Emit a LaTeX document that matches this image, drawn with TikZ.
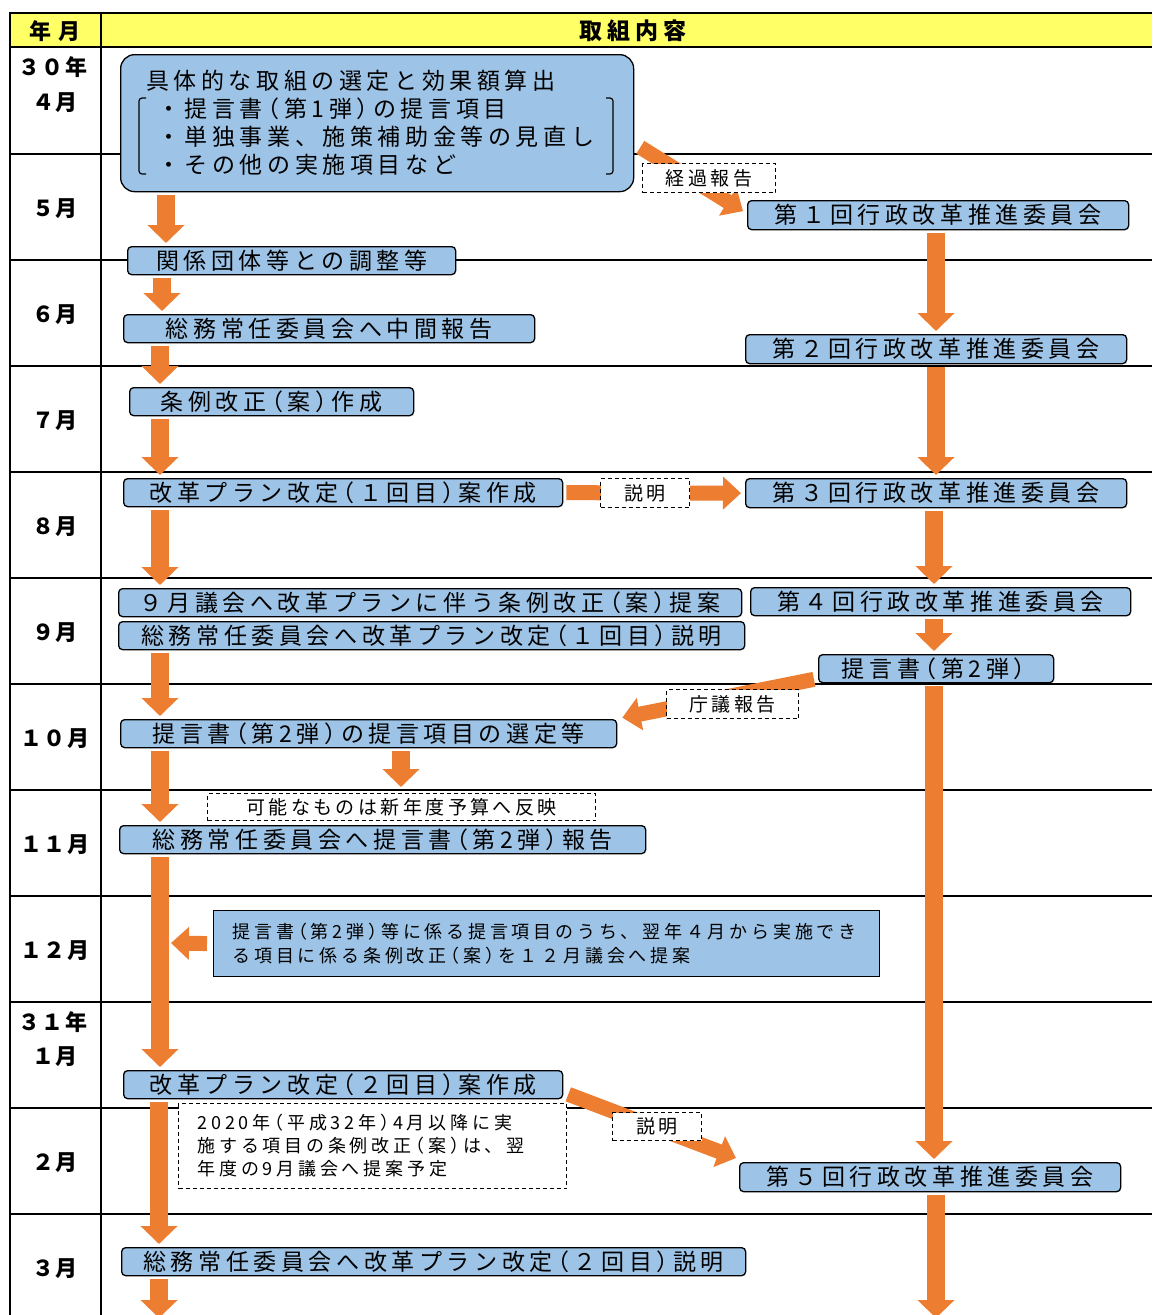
\documentclass[tikz,border=0pt]{standalone}
\usepackage{fontspec}
\usetikzlibrary{arrows.meta}
\newfontfamily\jpbox{Noto Sans CJK JP}[LetterSpace=20]
\newfontfamily\jpsm{Noto Sans CJK JP}[LetterSpace=21]
\newfontfamily\jplab{Noto Sans CJK JP}[LetterSpace=18]
\newfontfamily\jpmon{Noto Sans CJK JP}[LetterSpace=5]
\newfontfamily\jphd{Noto Sans CJK JP}[LetterSpace=22]
\definecolor{hdr}{HTML}{FFFF66}
\definecolor{boxblue}{HTML}{9DC3E6}
\definecolor{org}{HTML}{ED7D31}
\newcommand\jlp{\kern-.28em（}
\newcommand\jrp{）\kern-.28em}
\pgfdeclarelayer{bg}
\pgfsetlayers{bg,main}
\begin{document}
\begin{tikzpicture}[x=1pt,y=-1pt,
  box/.style={draw=black,line width=1.3pt,fill=boxblue,rounded corners=4pt,inner sep=0pt,anchor=north west,font=\jpbox\fontsize{23}{26}\selectfont},
  btext/.style={anchor=west,inner sep=0pt,font=\jpbox\fontsize{23}{26}\selectfont},
  lab/.style={draw=black,dash pattern=on 4pt off 3pt,line width=1pt,fill=white,inner sep=0pt,anchor=north west,font=\jplab\fontsize{19}{22}\selectfont},
  mon/.style={font=\jpmon\bfseries\fontsize{22}{24}\selectfont,inner sep=0pt},
  varr/.style={draw=org,line width=18pt,-{Triangle[width=36pt,length=18pt]},shorten <=3pt,shorten >=3pt},
  harr/.style={draw=org,line width=15pt,-{Triangle[width=32pt,length=18pt]}},
  grid/.style={line width=2pt,black}]
\useasboundingbox (0,0) rectangle (1152,1315);

% header and month labels
\node[mon] (h1) at (55,31) {年 月};
\node[font=\jphd\bfseries\fontsize{23}{24}\selectfont,inner sep=0pt] (h2) at (633,31) {取組内容};
\node[mon] (m30) at (53,67) {３０年};
\node[mon] (m4) at (55,103) {４月};
\node[mon] (m5) at (55,209) {５月};
\node[mon] (m6) at (55,315) {６月};
\node[mon] (m7) at (55,421) {７月};
\node[mon] (m8) at (55,527) {８月};
\node[mon] (m9) at (55,633) {９月};
\node[mon] (m10) at (55,739) {１０月};
\node[mon] (m11) at (55,845) {１１月};
\node[mon] (m12) at (55,951) {１２月};
\node[mon] (m31) at (53,1022) {３１年};
\node[mon] (m1) at (55,1057) {１月};
\node[mon] (m2) at (55,1163) {２月};
\node[mon] (m3) at (55,1269) {３月};

% big box
\node[box,rounded corners=14pt,minimum width=513,minimum height=137] (big) at (120,54) {};
\node[btext] (t0) at (146,81) {具体的な取組の選定と効果額算出};
\node[btext] (t1) at (157,109) {・提言書\jlp 第1弾\jrp の提言項目};
\node[btext] (t2) at (157,137) {・単独事業、施策補助金等の見直し};
\node[btext] (t3) at (157,165) {・その他の実施項目など};
\draw[line width=1.2pt,rounded corners=3pt] (146,98) -- (139,98) -- (139,174) -- (146,174);
\draw[line width=1.2pt,rounded corners=3pt] (606,98) -- (613,98) -- (613,174) -- (606,174);

% boxes
\node[box,minimum width=381,minimum height=29] (b1) at (747,200) {第１回行政改革推進委員会};
\node[box,minimum width=328,minimum height=28] (b2) at (127,246) {関係団体等との調整等};
\node[box,minimum width=411,minimum height=28] (b3) at (123,314) {総務常任委員会へ中間報告};
\node[box,minimum width=381,minimum height=29] (b4) at (745,334) {第２回行政改革推進委員会};
\node[box,minimum width=284,minimum height=28] (b5) at (129,387) {条例改正\jlp 案\jrp 作成};
\node[box,minimum width=439,minimum height=28] (b6) at (123,478) {改革プラン改定\jlp １回目\jrp 案作成};
\node[box,minimum width=381,minimum height=29] (b7) at (745,478) {第３回行政改革推進委員会};
\node[box,minimum width=623,minimum height=28] (b8) at (118,588) {９月議会へ改革プランに伴う条例改正\jlp 案\jrp 提案};
\node[box,minimum width=380,minimum height=28] (b9) at (750,587) {第４回行政改革推進委員会};
\node[box,minimum width=626,minimum height=28] (b10) at (118,621) {総務常任委員会へ改革プラン改定\jlp １回目\jrp 説明};
\node[box,minimum width=235,minimum height=28] (b11) at (818,654) {提言書\jlp 第2弾\jrp};
\node[box,minimum width=496,minimum height=28] (b12) at (120,719) {提言書\jlp 第2弾\jrp の提言項目の選定等};
\node[lab,minimum width=388,minimum height=27] (d1) at (207,793) {可能なものは新年度予算へ反映};
\node[box,minimum width=526,minimum height=28] (b13) at (119,825) {総務常任委員会へ提言書\jlp 第2弾\jrp 報告};
\node[box,rounded corners=0pt,minimum width=666,minimum height=66,text width=628,align=left,font=\jpsm\fontsize{18}{24}\selectfont] (b14) at (213,910) {提言書\jlp 第2弾\jrp 等に係る提言項目のうち、翌年４月から実施でき\\る項目に係る条例改正\jlp 案\jrp を１２月議会へ提案};
\node[box,minimum width=439,minimum height=28] (b15) at (123,1070) {改革プラン改定\jlp ２回目\jrp 案作成};
\node[lab,minimum width=388,minimum height=85,text width=350,align=left,font=\jpsm\fontsize{18}{23}\selectfont] (d2) at (178,1103) {2020年\jlp 平成32年\jrp 4月以降に実\\施する項目の条例改正\jlp 案\jrp は、翌\\年度の9月議会へ提案予定};
\node[box,minimum width=381,minimum height=29] (b16) at (739,1162) {第５回行政改革推進委員会};
\node[box,minimum width=624,minimum height=28] (b17) at (121,1247) {総務常任委員会へ改革プラン改定\jlp ２回目\jrp 説明};

% dashed labels
\node[lab,minimum width=133,minimum height=29] (l1) at (642,163) {経過報告};
\node[lab,minimum width=89,minimum height=29] (l2) at (600,478) {説明};
\node[lab,minimum width=132,minimum height=29] (l3) at (666,689) {庁議報告};
\node[lab,minimum width=89,minimum height=28] (l4) at (612,1112) {説明};

\coordinate (endL) at (159,1318);
\coordinate (endR) at (936,1318);
\coordinate (c12) at (171,943);

\begin{pgfonlayer}{bg}
\fill[hdr] (10,13) rectangle (1152,47);
\foreach \y in {154,260,...,1214} \draw[grid] (10,\y) -- (1152,\y);
\draw[line width=2.5pt] (1152,13) -- (10,13) -- (10,1315);
\draw[line width=2.5pt] (10,47) -- (1152,47);
\draw[line width=2.5pt] (101,13) -- (101,1315);
% left column
\draw[varr] (big.south -| 166,0) -- (b2.north -| 166,0);
\draw[varr] (b2.south -| 162,0) -- (b3.north -| 162,0);
\draw[varr] (b3.south -| 160,0) -- (b5.north -| 160,0);
\draw[varr] (b5.south -| 160,0) -- (b6.north -| 160,0);
\draw[varr] (b6.south -| 160,0) -- (b8.north -| 160,0);
\draw[varr] (b10.south -| 160,0) -- (b12.north -| 160,0);
\draw[varr] (b12.south -| 160,0) -- (b13.north -| 160,0);
\draw[varr,shorten >=6pt] (b12.south -| 401,0) -- (d1.north -| 401,0);
\draw[varr] (b13.south -| 160,0) -- (b15.north -| 160,0);
\draw[varr] (b15.south -| 159,0) -- (b17.north -| 159,0);
\draw[varr,shorten >=0pt] (b17.south -| 159,0) -- (endL);
% right column
\draw[varr] (b1.south -| 936,0) -- (b4.north -| 936,0);
\draw[varr] (b4.south -| 936,0) -- (b7.north -| 936,0);
\draw[varr] (b7.south -| 934,0) -- (b9.north -| 934,0);
\draw[varr] (b9.south -| 934,0) -- (b11.north -| 934,0);
\draw[varr] (b11.south -| 934,0) -- (b16.north -| 934,0);
\draw[varr,shorten >=0pt] (b16.south -| 936,0) -- (endR);
% cross arrows
\draw[harr] ([xshift=6pt,yshift=45pt]big.south east) -- ([xshift=-4pt,yshift=4pt]b1.west);
\draw[harr,shorten <=3pt,shorten >=4pt] (b6.east) -- (b7.west);
\draw[harr] ([xshift=-4pt,yshift=4pt]b11.south west) -- ([xshift=5pt,yshift=16pt]b12.east);
\draw[harr] ([xshift=5pt,yshift=5pt]b15.south east) -- ([xshift=-3pt,yshift=4pt]b16.north west);
\draw[harr,shorten <=6pt] (b14.west) -- (c12);
\end{pgfonlayer}
\end{tikzpicture}
\end{document}
